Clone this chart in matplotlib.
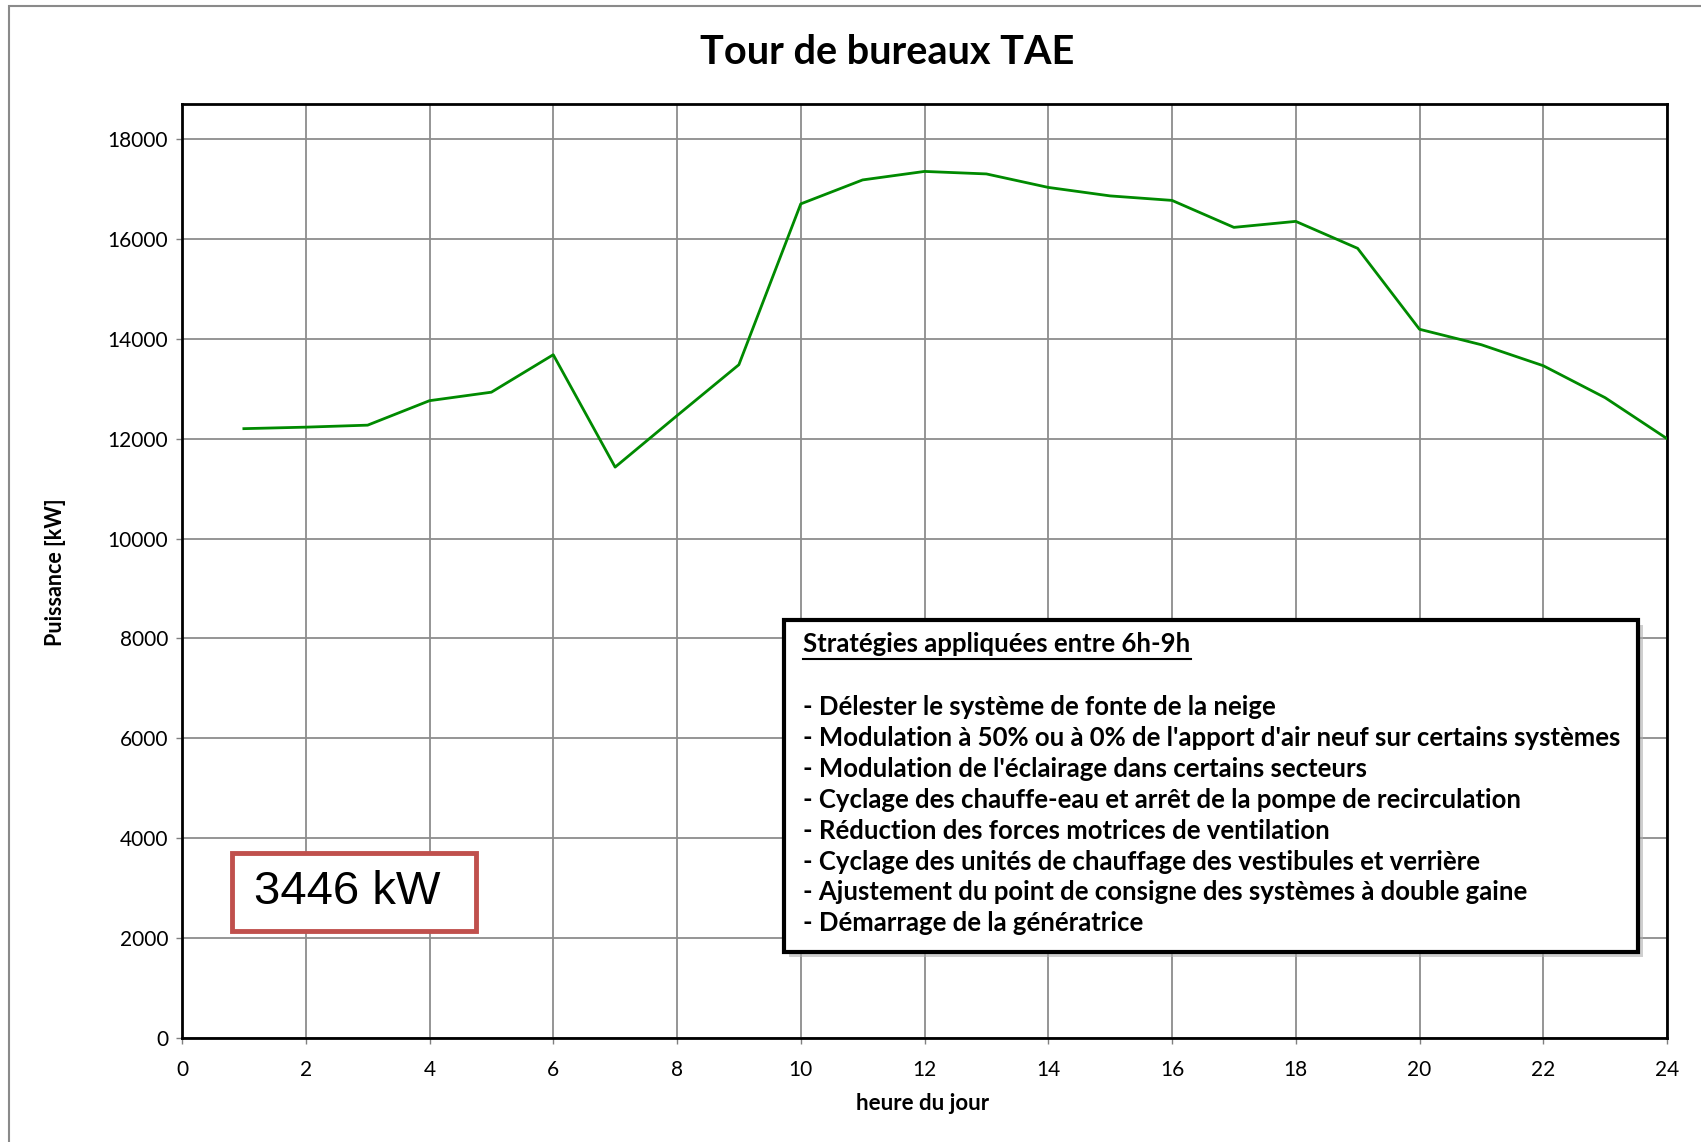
import matplotlib
matplotlib.use("Agg")
import matplotlib.pyplot as plt
from matplotlib.patches import Rectangle

plt.rcParams['font.family'] = ['Lato', 'DejaVu Sans']

heures = list(range(1, 25))
puissance = [12200, 12230, 12270, 12760, 12930, 13680, 11430, 12460,
             13480, 16700, 17180, 17350, 17300, 17030, 16860, 16770,
             16230, 16350, 15810, 14190, 13880, 13460, 12820, 12000]

titre = "Tour de bureaux TAE"
x_label = "heure du jour"
y_label = "Puissance [kW]"
x_ticks = list(range(0, 25, 2))
y_ticks = list(range(0, 18001, 2000))
reduction = "3446 kW"
entete = "Stratégies appliquées entre 6h-9h"
strategies = [
    "- Délester le système de fonte de la neige",
    "- Modulation à 50% ou à 0% de l'apport d'air neuf sur certains systèmes",
    "- Modulation de l'éclairage dans certains secteurs",
    "- Cyclage des chauffe-eau et arrêt de la pompe de recirculation",
    "- Réduction des forces motrices de ventilation",
    "- Cyclage des unités de chauffage des vestibules et verrière",
    "- Ajustement du point de consigne des systèmes à double gaine",
    "- Démarrage de la génératrice",
]

W, H = 1701, 1142
fig = plt.figure(figsize=(W / 100, H / 100), dpi=100)

def fx(px):
    return px / W

def fy(py):
    return 1 - py / H

# outer chart border
fig.patches.append(Rectangle((fx(9), fy(1200)), fx(1800), fy(6) - fy(1200),
                             transform=fig.transFigure, fill=False,
                             edgecolor='#8a8a8a', linewidth=1.5))

ax = fig.add_axes([fx(182), fy(1038), fx(1667) - fx(182), fy(104) - fy(1038)])
ax.plot(heures, puissance, color='#008a00', linewidth=2, zorder=3)
ax.set_xlim(0, 24)
ax.set_ylim(0, 18700)
ax.set_xticks(x_ticks)
ax.set_yticks(y_ticks)
ax.grid(True, color='#8c8c8c', linewidth=1.3)
ax.set_axisbelow(True)
for s in ax.spines.values():
    s.set_linewidth(2)
    s.set_color('black')
ax.tick_params(direction='out', length=4, width=1, color='#808080',
               labelsize=15)
ax.tick_params(axis='x', pad=12)
ax.tick_params(axis='y', pad=6)

fig.text(fx(887), fy(52), titre, ha='center', va='center',
         fontsize=28.5, fontweight='bold')
fig.text(fx(923), fy(1103), x_label, ha='center', va='center',
         fontsize=16, fontweight='bold')
fig.text(fx(56), fy(572), y_label, ha='center', va='center',
         fontsize=15.5, fontweight='bold', rotation=90)

# strategies box with drop shadow
bx0, by0, bx1, by1 = 784, 620, 1638, 952
fig.patches.append(Rectangle((fx(bx0 + 5), fy(by1 + 5)), fx(bx1 - bx0), fy(by0) - fy(by1),
                             transform=fig.transFigure, facecolor='#b0b0b0',
                             edgecolor='none', alpha=0.6, zorder=5))
fig.patches.append(Rectangle((fx(bx0), fy(by1)), fx(bx1 - bx0), fy(by0) - fy(by1),
                             transform=fig.transFigure, facecolor='white',
                             edgecolor='black', linewidth=3, zorder=6))
t = fig.text(fx(803), fy(644), entete, ha='left', va='center',
             fontsize=18.5, fontweight='bold', zorder=7)
fig.canvas.draw()
bb = t.get_window_extent()
fig.lines.append(plt.Line2D([fx(803), (bb.x1 + 1) / W], [fy(659), fy(659)],
                            transform=fig.transFigure, color='black',
                            linewidth=1.5, zorder=7))
y0 = 707
for i, ligne in enumerate(strategies):
    fig.text(fx(803), fy(y0 + i * 30.9), ligne, ha='left', va='center',
             fontsize=18.5, fontweight='bold', zorder=7)

# reduction box
fig.patches.append(Rectangle((fx(232), fy(931)), fx(476 - 232), fy(853) - fy(931),
                             transform=fig.transFigure, facecolor='white',
                             edgecolor='#c0504d', linewidth=3.5, zorder=6))
fig.text(fx(347), fy(892), reduction, ha='center', va='center',
         fontsize=34, family=['Liberation Sans'], zorder=7)

fig.savefig("out.png", dpi=100)
